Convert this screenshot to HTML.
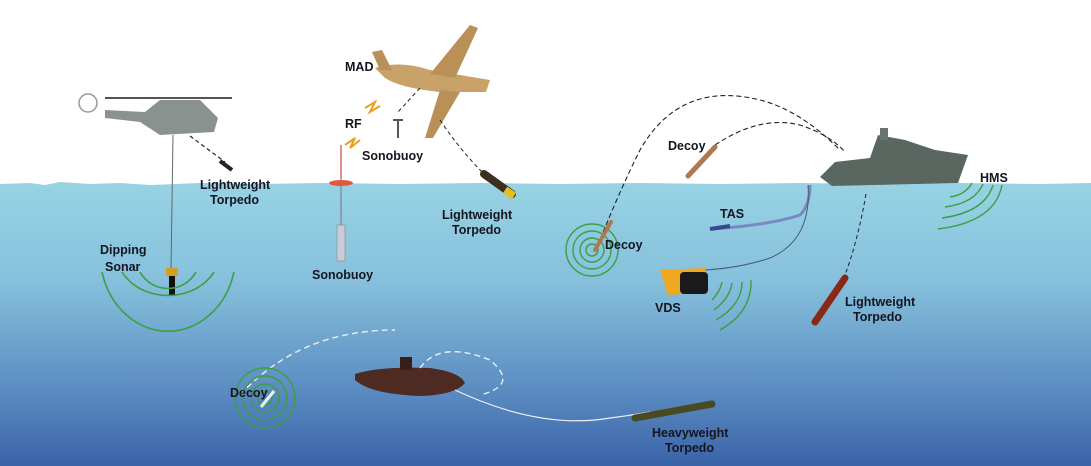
<!DOCTYPE html>
<html><head><meta charset="utf-8"><style>
html,body{margin:0;padding:0;background:#fff}
svg{display:block}
text{font-family:"Liberation Sans",sans-serif;font-weight:bold;font-size:12.5px;fill:#15151f}
</style></head><body>
<svg width="1091" height="466" viewBox="0 0 1091 466" xmlns="http://www.w3.org/2000/svg">
<defs>
<linearGradient id="w" x1="0" y1="0" x2="0" y2="1">
<stop offset="0" stop-color="#98d3e4"/>
<stop offset="0.35" stop-color="#86c0dc"/>
<stop offset="0.7" stop-color="#5f91c4"/>
<stop offset="1" stop-color="#3a63a8"/>
</linearGradient>
</defs>
<rect width="1091" height="466" fill="#fff"/>
<path d="M0 184 L30 183 L45 185 L60 182 L90 184 L120 183 L150 185 L200 183 L260 184 L320 183 L400 184 L480 183 L560 184 L640 183 L720 184 L800 183 L880 184 L960 183 L1040 184 L1091 183 V466 H0Z" fill="url(#w)"/>
<!-- helicopter -->
<line x1="173" y1="135" x2="171" y2="270" stroke="#666" stroke-width="1"/>
<path d="M105 110 L145 112 L160 100 L200 100 L218 118 L214 132 L160 135 L140 122 L105 118Z" fill="#8a9290"/>
<line x1="105" y1="98" x2="232" y2="98" stroke="#555" stroke-width="2"/>
<circle cx="88" cy="103" r="9" fill="none" stroke="#999" stroke-width="1.5"/>
<rect x="166" y="268" width="12" height="8" fill="#d2a020"/>
<rect x="169" y="276" width="6" height="20" fill="#111"/>
<g fill="none" stroke="#3aa040" stroke-width="1.6">
<path d="M140 272 A32 32 0 0 0 196 272"/>
<path d="M122 272 A52 44 0 0 0 214 272"/>
<path d="M102 272 A68 78 0 0 0 234 272"/>
</g>
<path d="M190 136 L225 162" stroke="#222" stroke-dasharray="4 3" stroke-width="1.2"/>
<path d="M220 161 L232 170" stroke="#222" stroke-width="4"/>
<text x="200" y="189">Lightweight</text><text x="210" y="204">Torpedo</text>
<text x="100" y="254">Dipping</text><text x="105" y="271">Sonar</text>
<!-- plane -->
<path d="M375 68 Q400 60 430 70 L490 80 L486 92 L440 92 Q400 88 385 78Z" fill="#c9a26a"/>
<path d="M430 74 L470 25 L478 28 L455 78Z" fill="#b89058"/>
<path d="M440 90 L425 138 L433 138 L460 92Z" fill="#b89058"/>
<path d="M372 52 L382 50 L392 70 L380 70Z" fill="#b89058"/>
<text x="345" y="71">MAD</text>
<text x="345" y="128">RF</text>
<path d="M365 108 L375 102 L370 112 L380 106" stroke="#e8a020" stroke-width="2" fill="none"/>
<path d="M345 145 L355 138 L350 148 L360 140" stroke="#e8a020" stroke-width="2" fill="none"/>
<path d="M420 88 L398 112" stroke="#222" stroke-dasharray="4 3"/>
<path d="M393 120 L403 120 M398 120 L398 138" stroke="#555" stroke-width="2"/>
<text x="362" y="160">Sonobuoy</text>
<path d="M440 120 Q460 150 485 175" stroke="#222" stroke-dasharray="4 3" fill="none"/>
<path d="M484 174 L512 194" stroke="#3a3020" stroke-width="8" stroke-linecap="round"/>
<path d="M505 190 L514 196" stroke="#e0c020" stroke-width="8"/>
<text x="442" y="219">Lightweight</text><text x="452" y="234">Torpedo</text>
<!-- sonobuoy -->
<line x1="341" y1="145" x2="341" y2="230" stroke="#777"/>
<line x1="341" y1="145" x2="341" y2="178" stroke="#c02020"/>
<ellipse cx="341" cy="183" rx="12" ry="3" fill="#e05a3a"/>
<rect x="337" y="225" width="8" height="36" fill="#c8ccd8" stroke="#888" stroke-width="0.6"/>
<text x="312" y="279">Sonobuoy</text>
<!-- decoy left + ship arcs -->
<path d="M600 240 Q620 190 640 150 Q680 80 760 100 Q800 110 840 150" stroke="#222" stroke-dasharray="5 3" fill="none" stroke-width="1.1"/>
<path d="M715 145 Q760 115 800 125 Q830 135 845 152" stroke="#222" stroke-dasharray="5 3" fill="none" stroke-width="1.1"/>
<path d="M715 147 L688 176" stroke="#b07850" stroke-width="5" stroke-linecap="round"/>
<text x="668" y="150">Decoy</text>
<g fill="none" stroke="#3aa040" stroke-width="1.4">
<circle cx="592" cy="250" r="6"/><circle cx="592" cy="250" r="12"/><circle cx="592" cy="250" r="19"/><circle cx="592" cy="250" r="26"/>
</g>
<path d="M611 222 L595 250" stroke="#b07850" stroke-width="4" stroke-linecap="round"/>
<text x="605" y="249">Decoy</text>
<!-- ship -->
<path d="M820 177 L835 162 L870 158 L878 135 L905 140 L935 150 L968 155 L958 183 L832 186Z" fill="#5a6660"/>
<rect x="880" y="128" width="8" height="12" fill="#6a746e"/>
<text x="980" y="182">HMS</text>
<g fill="none" stroke="#3aa040" stroke-width="1.4">
<path d="M950 197 Q965 195 972 183"/><path d="M945 207 Q975 203 983 184"/><path d="M942 218 Q985 212 993 185"/><path d="M938 229 Q995 222 1002 185"/>
</g>
<path d="M810 185 Q810 205 800 215 Q770 225 712 229" stroke="#7a88c0" stroke-width="3" fill="none"/>
<path d="M710 229 L730 226" stroke="#3a4890" stroke-width="4"/>
<text x="720" y="218">TAS</text>
<path d="M808 185 Q812 240 770 258 Q740 268 705 270" stroke="#4a5a70" fill="none" stroke-width="1"/>
<path d="M660 270 L705 268 L708 292 L668 295 Z" fill="#f0a820"/>
<rect x="680" y="272" width="28" height="22" rx="4" fill="#1a1a1a"/>
<text x="655" y="312">VDS</text>
<g fill="none" stroke="#3aa040" stroke-width="1.4">
<path d="M712 300 Q720 292 722 282"/><path d="M714 310 Q730 298 732 283"/><path d="M716 320 Q742 305 742 282"/><path d="M720 330 Q752 312 751 280"/>
</g>
<path d="M866 194 Q858 240 845 275" stroke="#222" stroke-dasharray="4 3" fill="none"/>
<path d="M845 278 L815 322" stroke="#8a2818" stroke-width="7" stroke-linecap="round"/>
<text x="845" y="306">Lightweight</text><text x="853" y="321">Torpedo</text>
<!-- submarine -->
<path d="M355 374 Q380 366 430 368 Q460 372 465 383 Q455 395 420 396 Q370 394 355 380Z" fill="#4e2b22"/>
<rect x="400" y="357" width="12" height="13" fill="#3a1e18"/>
<path d="M455 390 Q540 430 610 418 Q640 414 650 412" stroke="#eee" fill="none" stroke-width="1.2"/>
<path d="M420 368 Q440 340 490 360 Q520 385 480 395" stroke="#eee" stroke-dasharray="6 4" fill="none" stroke-width="1.4"/>
<path d="M240 395 Q300 330 395 330" stroke="#eee" stroke-dasharray="6 4" fill="none" stroke-width="1.4"/>
<path d="M635 418 L712 404" stroke="#4a4a22" stroke-width="7" stroke-linecap="round"/>
<text x="652" y="437">Heavyweight</text><text x="665" y="452">Torpedo</text>
<g fill="none" stroke="#3aa040" stroke-width="1.4">
<circle cx="265" cy="398" r="7"/><circle cx="265" cy="398" r="14"/><circle cx="265" cy="398" r="22"/><circle cx="265" cy="398" r="30"/>
</g>
<path d="M274 391 L261 407" stroke="#eee" stroke-width="3"/>
<text x="230" y="397">Decoy</text>
</svg>
</body></html>
